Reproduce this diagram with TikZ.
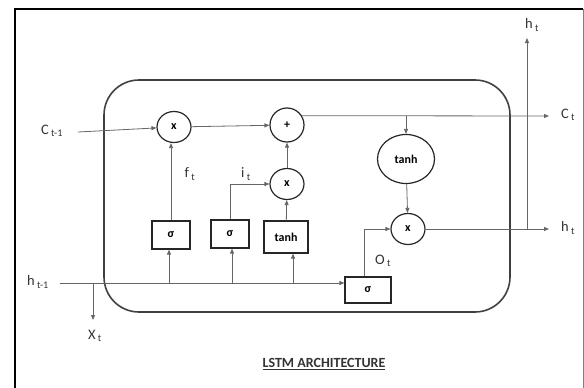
\documentclass[tikz,border=0pt]{standalone}
\usepackage{fontspec}
\setmainfont{Carlito}
\usetikzlibrary{arrows.meta,shapes.geometric}
\begin{document}
\begin{tikzpicture}[x=1pt,y=-1pt, every node/.style={font=\fontsize{14.5}{16}\selectfont,text=black!80}, >={Triangle[length=5pt,width=4pt]}]
  \tikzstyle{op}=[draw=black!85,ellipse,line width=1.2pt,minimum width=34pt,minimum height=31pt,inner sep=0pt,text=black,font=\bfseries\fontsize{12}{14}\selectfont]
  \tikzstyle{gate}=[draw=black!85,line width=1.2pt,minimum width=38pt,minimum height=28pt,inner sep=0pt,text=black,font=\bfseries\fontsize{12}{14}\selectfont]
  \tikzstyle{wire}=[draw=black!60,line width=0.8pt]
  \useasboundingbox (0,0) rectangle (584,388);
  \draw[line width=2.5pt] (15,390) -- (15,9) -- (583,9);
  \draw[black!50,line width=0.8pt] (583,9) -- (583,388);
  \draw[black!75,line width=1.6pt,rounded corners=35pt] (104,80) rectangle (510,312);
  % cell operations
  \node[op] (fx) at (174,127) {x};
  \node[op,minimum height=34pt] (add) at (287,125) {+};
  \node[op] (ix) at (287,184) {x};
  \node[op,minimum width=57pt,minimum height=49pt] (tanhc) at (406,159) {tanh};
  \node[op] (ox) at (408,229) {x};
  \node[gate] (sf) at (171,235) {σ};
  \node[gate] (si) at (230,234) {σ};
  \node[gate,minimum width=44pt,minimum height=32pt] (tb) at (286,237) {tanh};
  \node[gate,minimum width=46pt,minimum height=26pt] (so) at (368,290) {σ};
  % labels
  \node (cprev) at (52,131) {C\textsubscript{\ t-1}};
  \node (hprev) at (38,282) {h\textsubscript{\ t-1}};
  \node (xt) at (95,336) {X\textsubscript{\ t}};
  \node (ft) at (190,174) {f\textsubscript{\ t}};
  \node (it) at (246,174) {i\textsubscript{\ t}};
  \node (ot) at (383,261) {O\textsubscript{\ t}};
  \node (ct) at (568,115) {C\textsubscript{\ t}};
  \node (ht) at (568,228) {h\textsubscript{\ t}};
  \node (htup) at (532,25) {h\textsubscript{\ t}};
  \node[font=\bfseries\fontsize{14}{16}\selectfont] (title) at (324,364) {\underline{LSTM ARCHITECTURE}};
  \coordinate (cin) at (78,132);
  \coordinate (hin) at (60,283);
  \coordinate (cout) at (549,116);
  \coordinate (hout) at (549,229);
  \coordinate (tap) at (406,116);
  \coordinate (hsplit) at (527,229);
  \coordinate (hup) at (527,38);
  \coordinate (xsplit) at (93,283);
  \coordinate (xdown) at (93,320);
  \coordinate (bf) at (169,283);
  \coordinate (bi) at (232,283);
  \coordinate (bt) at (293,283);
  % connections
  \draw[wire,->] (cin) -- (fx);
  \draw[wire,->] (fx) -- (add);
  \draw[wire,->] (add.32) -- (cout);
  \draw[wire,->] (tap) -- (tanhc);
  \draw[wire,->] (tanhc) -- (ox);
  \draw[wire,->] (ox) -- (hout);
  \draw[wire,->] (hsplit) -- (hup);
  \draw[wire,->] (sf.north) -- (sf.north |- fx.south);
  \draw[wire,->] (si.north) |- (ix.west);
  \draw[wire,->] (tb) -- (ix);
  \draw[wire,->] (ix) -- (add);
  \draw[wire,->] ([xshift=-4pt]so.north) |- (ox.west);
  \draw[wire,->] (hin) -- (hin -| so.west);
  \draw[wire,->] (xsplit) -- (xdown);
  \draw[wire,->] (bf) -- (bf |- sf.south);
  \draw[wire,->] (bi) -- (bi |- si.south);
  \draw[wire,->] (bt) -- (bt |- tb.south);
\end{tikzpicture}
\end{document}
